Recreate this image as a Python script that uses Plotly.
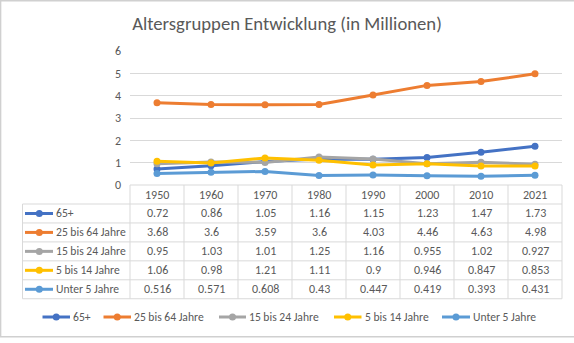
import plotly.graph_objects as go

# ---- data -------------------------------------------------------------
years = ["1950", "1960", "1970", "1980", "1990", "2000", "2010", "2021"]
series_names = ["65+", "25 bis 64 Jahre", "15 bis 24 Jahre", "5 bis 14 Jahre", "Unter 5 Jahre"]
age_65_plus = [0.72, 0.86, 1.05, 1.16, 1.15, 1.23, 1.47, 1.73]
age_25_64 = [3.68, 3.6, 3.59, 3.6, 4.03, 4.46, 4.63, 4.98]
age_15_24 = [0.95, 1.03, 1.01, 1.25, 1.16, 0.955, 1.02, 0.927]
age_5_14 = [1.06, 0.98, 1.21, 1.11, 0.9, 0.946, 0.847, 0.853]
age_under_5 = [0.516, 0.571, 0.608, 0.43, 0.447, 0.419, 0.393, 0.431]
y_ticks = [0, 1, 2, 3, 4, 5, 6]
title_text = "Altersgruppen Entwicklung (in Millionen)"

series_values = [age_65_plus, age_25_64, age_15_24, age_5_14, age_under_5]
colors = ["#4472C4", "#ED7D31", "#A5A5A5", "#FFC000", "#5B9BD5"]

# ---- geometry (pixels) ------------------------------------------------
W, H = 574, 343
L, R, T, B = 130, 562, 51, 185
FONT = "Calibri, Carlito, Lato, sans-serif"
TXT = "#595959"
GRID = "#D9D9D9"


def px(x):
    return (x - L) / (R - L)


def py(y):
    return (B - y) / (B - T)


fig = go.Figure()
for name, vals, col in zip(series_names, series_values, colors):
    fig.add_trace(go.Scatter(
        x=years, y=vals, name=name, mode="lines+markers",
        line=dict(color=col, width=3), marker=dict(color=col, size=7),
        showlegend=False,
    ))

shapes = []
annotations = []

# data table below the plot
row_h = 18.95
header_top = 185
header_bot = 204
n_cols = len(years)
col_w = (R - L) / n_cols
table_left = 22.5
table_bottom = header_bot + row_h * len(series_names)

line_style = dict(color=GRID, width=1)
shapes.append(dict(type="line", xref="paper", yref="paper",
                   x0=px(L), x1=px(R), y0=py(header_top), y1=py(header_top), line=line_style))
for k in range(len(series_names) + 1):
    yy = header_bot + row_h * k
    shapes.append(dict(type="line", xref="paper", yref="paper",
                       x0=px(table_left), x1=px(R), y0=py(yy), y1=py(yy), line=line_style))
shapes.append(dict(type="line", xref="paper", yref="paper",
                   x0=px(table_left), x1=px(table_left), y0=py(header_bot), y1=py(table_bottom),
                   line=line_style))
for k in range(n_cols + 1):
    xx = L + col_w * k
    shapes.append(dict(type="line", xref="paper", yref="paper",
                       x0=px(xx), x1=px(xx), y0=py(header_top), y1=py(table_bottom), line=line_style))

cell_font = dict(family=FONT, size=12, color=TXT)
label_font = dict(family=FONT, size=11.6, color=TXT)
# category axis positions are the serial numbers of the years
for ci, yr in enumerate(years):
    annotations.append(dict(x=ci, xref="x", y=py((header_top + header_bot) / 2), yref="paper",
                            text=yr, showarrow=False, font=cell_font,
                            xanchor="center", yanchor="middle"))

for i, (name, vals, col) in enumerate(zip(series_names, series_values, colors)):
    yc = header_bot + row_h * (i + 0.5)
    for ci, v in enumerate(vals):
        annotations.append(dict(x=ci, xref="x", y=py(yc), yref="paper",
                                text=f"{v:g}", showarrow=False, font=cell_font,
                                xanchor="center", yanchor="middle"))
    # legend key in the table
    shapes.append(dict(type="line", xref="paper", yref="paper",
                       x0=px(25), x1=px(53), y0=py(yc), y1=py(yc),
                       line=dict(color=col, width=3)))
    shapes.append(dict(type="circle", xref="paper", yref="paper",
                       xsizemode="pixel", ysizemode="pixel",
                       xanchor=px(39.3), yanchor=py(yc),
                       x0=-3.5, x1=3.5, y0=-3.5, y1=3.5,
                       fillcolor=col, line=dict(width=0)))
    annotations.append(dict(x=px(54), xref="paper", y=py(yc), yref="paper",
                            text=name, showarrow=False, font=label_font,
                            xanchor="left", yanchor="middle"))

# legend row at the bottom
legend_y = 317
legend_items = [(42.5, 70), (103.5, 131), (219, 246), (334, 361.5), (442, 470)]
for (x0, x1), name, col in zip(legend_items, series_names, colors):
    shapes.append(dict(type="line", xref="paper", yref="paper",
                       x0=px(x0), x1=px(x1), y0=py(legend_y), y1=py(legend_y),
                       line=dict(color=col, width=3)))
    shapes.append(dict(type="circle", xref="paper", yref="paper",
                       xsizemode="pixel", ysizemode="pixel",
                       xanchor=px((x0 + x1) / 2), yanchor=py(legend_y),
                       x0=-3.5, x1=3.5, y0=-3.5, y1=3.5,
                       fillcolor=col, line=dict(width=0)))
    annotations.append(dict(x=px(x1 + 1), xref="paper", y=py(legend_y), yref="paper",
                            text=name, showarrow=False, font=label_font,
                            xanchor="left", yanchor="middle"))

# chart frame
frame = dict(color="#D0D0D0", width=1.5)
shapes.append(dict(type="line", xref="paper", yref="paper",
                   x0=px(0), x1=px(W), y0=py(0.8), y1=py(0.8), line=frame))
shapes.append(dict(type="line", xref="paper", yref="paper",
                   x0=px(0.6), x1=px(0.6), y0=py(0), y1=py(337), line=frame))
shapes.append(dict(type="line", xref="paper", yref="paper",
                   x0=px(0), x1=px(W), y0=py(336.7), y1=py(336.7), line=frame))

fig.update_layout(
    width=W, height=H,
    margin=dict(l=L, r=W - R, t=T, b=H - B, pad=0, autoexpand=False),
    paper_bgcolor="white", plot_bgcolor="white",
    showlegend=False,
    title=dict(text=title_text, x=0.5, xref="container", xanchor="center",
               y=1 - 23 / H, yref="container", yanchor="middle",
               font=dict(family=FONT, size=18.7, color=TXT)),
    xaxis=dict(type="category", range=[-0.5, len(years) - 0.5], showticklabels=False,
               showgrid=False, zeroline=False, showline=False, ticks=""),
    yaxis=dict(range=[0, 6], tickvals=y_ticks, showgrid=True, gridcolor=GRID, gridwidth=1,
               zeroline=False, showline=False, ticks="", ticklabelstandoff=8,
               tickfont=dict(family=FONT, size=12, color=TXT)),
    shapes=shapes,
    annotations=annotations,
    font=dict(family=FONT, color=TXT),
)

fig.write_html("out.html")
